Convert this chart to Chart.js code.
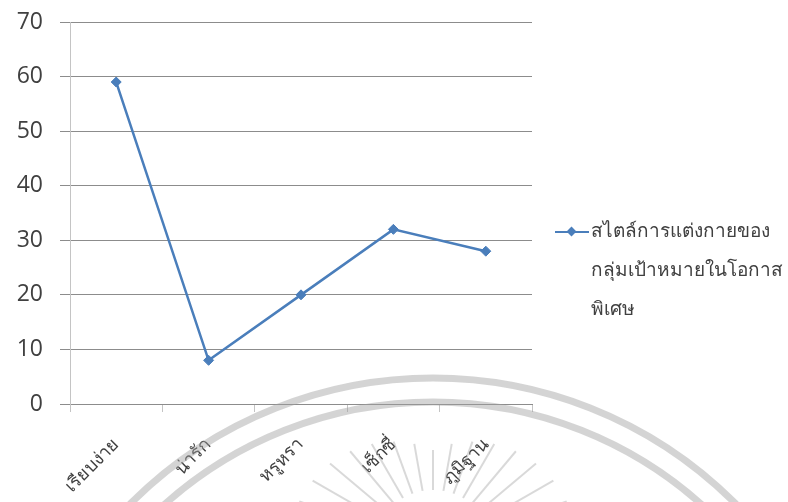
<!DOCTYPE html>
<html>
<head>
<meta charset="utf-8">
<script src="https://cdn.jsdelivr.net/npm/chart.js@4.4.1/dist/chart.umd.min.js"></script>
<style>
  body { margin: 0; background: #fff; }
  #wrap { position: relative; width: 788px; height: 502px; }
  #legend {
    position: absolute; left: 555px; top: 211px;
    font-family: "Noto Sans", sans-serif;
    font-size: 19px; color: #404040; line-height: 39px;
  }
  #legend .row { white-space: nowrap; }
  #legend .mark { display: inline-block; position: relative; width: 36px; height: 12px; vertical-align: middle; }
  #legend .mark .ln { position: absolute; left: 0; top: 5px; width: 34px; height: 2.5px; background: #4a7ebb; }
  #legend .mark .dm { position: absolute; left: 13px; top: 2px; width: 7px; height: 7px; background: #4a7ebb; transform: rotate(45deg); }
  #legend .indent { padding-left: 36px; }
</style>
</head>
<body>
<div id="wrap">
  <canvas id="myChart" width="788" height="502"></canvas>
  <div id="legend"></div>
</div>
<script>
// chart data
var categories = ['เรียบง่าย', 'น่ารัก', 'หรูหรา', 'เซ็กซี่', 'ภูมิฐาน'];
var seriesValues = [59, 8, 20, 32, 28];
var yTicks = [0, 10, 20, 30, 40, 50, 60, 70];
var seriesName = 'สไตล์การแต่งกายของกลุ่มเป้าหมายในโอกาสพิเศษ';
var legendLines = ['สไตล์การแต่งกายของ', 'กลุ่มเป้าหมายในโอกาส', 'พิเศษ'];

var lineColor = '#4a7ebb';
var textColor = '#404040';

// faint round stamp in the background of the scan
var watermark = {
  id: 'watermark',
  afterDraw: function (chart) {
    var ctx = chart.ctx;
    var cx = 433, cy = 805;
    ctx.save();
    ctx.strokeStyle = 'rgba(160,160,160,0.45)';
    ctx.lineWidth = 7;
    ctx.beginPath();
    ctx.arc(cx, cy, 427, Math.PI, 2 * Math.PI);
    ctx.stroke();
    ctx.beginPath();
    ctx.arc(cx, cy, 403, Math.PI, 2 * Math.PI);
    ctx.stroke();
    // rays
    var ry = 550;
    ctx.lineWidth = 2;
    ctx.strokeStyle = 'rgba(160,160,160,0.4)';
    for (var a = -160; a <= -20; a += 10) {
      var r = a * Math.PI / 180;
      var r0 = 100 + 45 * Math.abs(Math.cos(r));
      ctx.beginPath();
      ctx.moveTo(cx + Math.cos(r) * r0, ry + Math.sin(r) * r0);
      ctx.lineTo(cx + Math.cos(r) * 60, ry + Math.sin(r) * 60);
      ctx.stroke();
    }
    ctx.restore();
  }
};

var chartData = {
  labels: categories,
  datasets: [{
    label: seriesName,
    data: seriesValues,
    borderColor: lineColor,
    backgroundColor: lineColor,
    borderWidth: 2.5,
    pointStyle: 'rectRot',
    pointRadius: 5,
    pointBorderWidth: 1,
    pointBackgroundColor: lineColor,
    pointBorderColor: lineColor,
    tension: 0
  }]
};

var chartOptions = {
  responsive: false,
  animation: false,
  layout: { padding: { left: 0, right: 256, top: 22, bottom: 0 } },
  plugins: { legend: { display: false }, tooltip: { enabled: false } },
  scales: {
    x: {
      offset: true,
      grid: { offset: true, drawOnChartArea: false, drawTicks: true, tickLength: 8, color: '#c4c4c4' },
      border: { display: true, color: '#8c8c8c' },
      ticks: {
        minRotation: 45, maxRotation: 45, padding: 22,
        color: textColor,
        font: { family: 'sans-serif', size: 18 }
      },
      afterFit: function (s) { s.height = 98; s.paddingLeft = 0; s.paddingRight = 0; }
    },
    y: {
      min: 0, max: 70,
      afterBuildTicks: function (s) { s.ticks = yTicks.map(function (v) { return { value: v }; }); },
      grid: { color: '#8c8c8c', tickLength: 10 },
      border: { display: true, color: '#c4c4c4' },
      ticks: {
        padding: 17,
        color: textColor,
        font: { family: '"Open Sans", sans-serif', size: 23 }
      },
      afterFit: function (s) { s.width = 70; s.paddingTop = 0; s.paddingBottom = 0; }
    }
  }
};

var ctx = document.getElementById('myChart').getContext('2d');
var myChart = new Chart(ctx, { type: 'line', data: chartData, options: chartOptions, plugins: [watermark] });

// legend on the right, wrapped over three lines like the original
var legend = document.getElementById('legend');
legendLines.forEach(function (txt, i) {
  var row = document.createElement('div');
  row.className = 'row';
  if (i === 0) {
    row.innerHTML = '<span class="mark"><span class="ln"></span><span class="dm"></span></span>';
    row.appendChild(document.createTextNode(txt));
  } else {
    row.className = 'row indent';
    row.textContent = txt;
  }
  legend.appendChild(row);
});
</script>
</body>
</html>
